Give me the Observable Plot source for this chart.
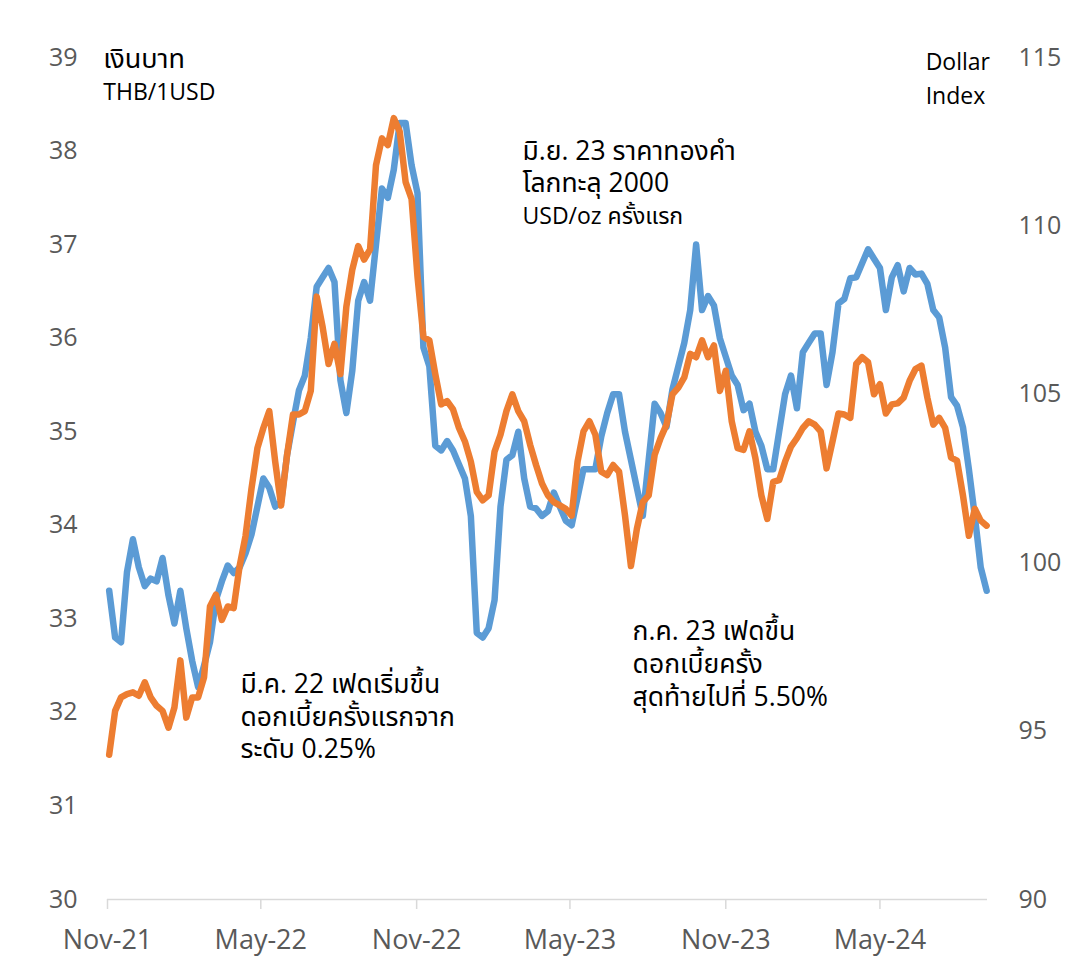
<!DOCTYPE html>
<html>
<head>
<meta charset="utf-8">
<script src="https://cdn.jsdelivr.net/npm/d3@7"></script>
<script src="https://cdn.jsdelivr.net/npm/@observablehq/plot@0.6"></script>
<style>
  html, body { margin: 0; padding: 0; background: #ffffff; }
</style>
</head>
<body>
<div id="chart"></div>
<script>
// ---- Data (weekly, starting 2021-11-03) ----
const startDate = "2021-11-03";

// THB per 1 USD (left axis)
const thb = [
  33.3, 32.8, 32.75, 33.5, 33.85, 33.55, 33.35, 33.43, 33.4, 33.65,
  33.25, 32.95, 33.3, 32.9, 32.55, 32.27, 32.5, 32.75, 33.2, 33.4,
  33.57, 33.49, 33.55, 33.7, 33.9, 34.2, 34.5, 34.4, 34.2, 34.25,
  34.75, 35.1, 35.44, 35.6, 36.0, 36.55, 36.65, 36.75, 36.6, 35.55,
  35.2, 35.65, 36.4, 36.6, 36.4, 37.0, 37.6, 37.5, 37.8, 38.3,
  38.3, 37.85, 37.55, 35.9, 35.7, 34.85, 34.8, 34.9, 34.8, 34.65,
  34.5, 34.1, 32.85, 32.8, 32.9, 33.2, 34.2, 34.7, 34.75, 35.0,
  34.5, 34.2, 34.18, 34.1, 34.15, 34.35, 34.2, 34.05, 34.0, 34.3,
  34.6, 34.6, 34.6, 34.95, 35.2, 35.4, 35.4, 35.0, 34.7, 34.4,
  34.1, 34.7, 35.3, 35.2, 35.05, 35.45, 35.7, 35.95, 36.3, 37.0,
  36.3, 36.45, 36.35, 36.0, 35.8, 35.6, 35.5, 35.23, 35.3, 35.0,
  34.85, 34.6, 34.6, 35.0, 35.4, 35.6, 35.25, 35.85, 35.95, 36.05,
  36.05, 35.5, 35.85, 36.37, 36.42, 36.64, 36.65, 36.8, 36.95, 36.85,
  36.75, 36.3, 36.65, 36.78, 36.5, 36.75, 36.68, 36.69, 36.58, 36.3,
  36.22, 35.9, 35.37, 35.28, 35.05, 34.6, 34.1, 33.55, 33.3
];

// US Dollar Index (right axis)
const dxy = [
  94.3, 95.6, 96.0, 96.1, 96.15, 96.05, 96.45, 96.0, 95.75, 95.6,
  95.1, 95.7, 97.1, 95.4, 96.0, 96.0, 96.6, 98.7, 99.05, 98.3,
  98.7, 98.65, 99.9, 100.8, 102.2, 103.4, 104.0, 104.5, 103.0, 101.7,
  103.2, 104.4, 104.4, 104.5, 105.1, 107.9, 107.0, 105.9, 106.5, 105.6,
  107.6, 108.7, 109.4, 109.0, 109.3, 111.8, 112.6, 112.4, 113.2, 112.8,
  111.3, 110.8, 108.5, 106.7, 106.6, 105.6, 104.7, 104.8, 104.55, 104.0,
  103.6, 103.0, 102.1, 101.85, 102.0, 103.3, 103.8, 104.5, 105.0, 104.5,
  104.2, 103.5, 102.9, 102.35, 102.0, 101.8, 101.7, 101.6, 101.4, 103.0,
  103.9, 104.2, 103.8, 102.7, 102.6, 102.9, 102.7, 101.4, 99.9, 101.0,
  101.8, 102.0, 103.2, 103.7, 104.1, 105.0, 105.2, 105.5, 106.2, 106.1,
  106.6, 106.1, 106.45, 105.1, 105.7, 104.2, 103.4, 103.35, 103.9, 103.1,
  102.0, 101.3, 102.4, 102.45, 103.0, 103.45, 103.7, 104.0, 104.2, 104.1,
  103.9, 102.8, 103.6, 104.43, 104.4, 104.3, 105.9, 106.1, 105.95, 105.0,
  105.3, 104.43, 104.7, 104.73, 104.9, 105.4, 105.75, 105.85, 104.9, 104.1,
  104.3, 104.0, 103.12, 103.03, 102.0, 100.8, 101.6, 101.25, 101.1
];

const xTicks = ["2021-11-01", "2022-05-01", "2022-11-01", "2023-05-01", "2023-11-01", "2024-05-01"];
const leftTicks = [30, 31, 32, 33, 34, 35, 36, 37, 38, 39];
const rightTicks = [90, 95, 100, 105, 110, 115];
const xDomain = ["2021-11-01", "2024-09-05"];

// Annotations (text, anchor date, left-axis value, font size)
const notes = [
  {text: "เงินบาท", date: "2021-10-27", v: 38.98, size: 27},
  {text: "THB/1USD", date: "2021-10-27", v: 38.62, size: 23},
  {text: "Dollar", date: "2024-06-24", v: 38.94, size: 23},
  {text: "Index", date: "2024-06-24", v: 38.58, size: 23},
  {text: "มิ.ย. 23 ราคาทองคำ", date: "2023-03-06", v: 38.0, size: 26.5},
  {text: "โลกทะลุ 2000", date: "2023-03-06", v: 37.65, size: 26.5},
  {text: "USD/oz ครั้งแรก", date: "2023-03-06", v: 37.30, size: 23},
  {text: "มี.ค. 22 เฟดเริ่มขึ้น", date: "2022-04-07", v: 32.30, size: 26.5},
  {text: "ดอกเบี้ยครั้งแรกจาก", date: "2022-04-07", v: 31.95, size: 26.5},
  {text: "ระดับ 0.25%", date: "2022-04-07", v: 31.60, size: 26.5},
  {text: "ก.ค. 23 เฟดขึ้น", date: "2023-07-14", v: 32.86, size: 26.5},
  {text: "ดอกเบี้ยครั้ง", date: "2023-07-14", v: 32.51, size: 26.5},
  {text: "สุดท้ายไปที่ 5.50%", date: "2023-07-14", v: 32.16, size: 26.5}
];

// ---- Build tables ----
const parse = d3.utcParse("%Y-%m-%d");
const t0 = parse(startDate);
const dates = thb.map((_, i) => d3.utcDay.offset(t0, 7 * i));
const thbData = thb.map((v, i) => ({date: dates[i], v}));
const dxyData = dxy.map((v, i) => ({date: dates[i], v}));

// Dollar index mapped onto the left (THB) scale: 90..115 -> 30..39
const toLeft = v => 30 + (v - 90) * 9 / 25;
const toRight = y => 90 + (y - 30) * 25 / 9;

const fontFamily = "'Segoe UI', 'Open Sans', 'Noto Sans', 'Noto Sans Thai', 'Leelawadee UI', sans-serif";

const noteMarks = [...new Set(notes.map(n => n.size))].map(size =>
  Plot.text(notes.filter(n => n.size === size), {
    x: d => parse(d.date),
    y: "v",
    text: "text",
    textAnchor: "start",
    lineAnchor: "middle",
    fontSize: size,
    fill: "#000000"
  })
);

const chart = Plot.plot({
  width: 1092,
  height: 962,
  marginTop: 57,
  marginBottom: 63,
  marginLeft: 107,
  marginRight: 105,
  style: {fontFamily, background: "#ffffff", color: "#595959", overflow: "visible"},
  x: {type: "utc", domain: xDomain.map(parse)},
  y: {domain: [30, 39]},
  marks: [
    Plot.ruleY([30], {stroke: "#d9d9d9", strokeWidth: 1.5}),
    Plot.axisX(xTicks.map(parse), {tickSize: 10, text: null, stroke: "#d9d9d9", strokeWidth: 1.5}),
    Plot.axisX(xTicks.map(parse), {
      tickSize: 0, tickPadding: 30, tickFormat: d3.utcFormat("%b-%y"),
      fontSize: 27, fill: "#595959", label: null
    }),
    Plot.axisY(leftTicks, {
      anchor: "left", tickSize: 0, tickPadding: 30, fontSize: 25, fill: "#595959", label: null,
      tickFormat: d => String(d)
    }),
    Plot.axisY(rightTicks.map(toLeft), {
      anchor: "right", tickSize: 0, tickPadding: 31, fontSize: 25, fill: "#595959", label: null,
      tickFormat: y => String(Math.round(toRight(y)))
    }),
    Plot.lineY(thbData, {x: "date", y: "v", stroke: "#5B9BD5", strokeWidth: 6.5, strokeLinejoin: "round"}),
    Plot.lineY(dxyData, {x: "date", y: d => toLeft(d.v), stroke: "#ED7D31", strokeWidth: 6.5, strokeLinejoin: "round"}),
    ...noteMarks
  ]
});

document.getElementById("chart").appendChild(chart);
</script>
</body>
</html>
